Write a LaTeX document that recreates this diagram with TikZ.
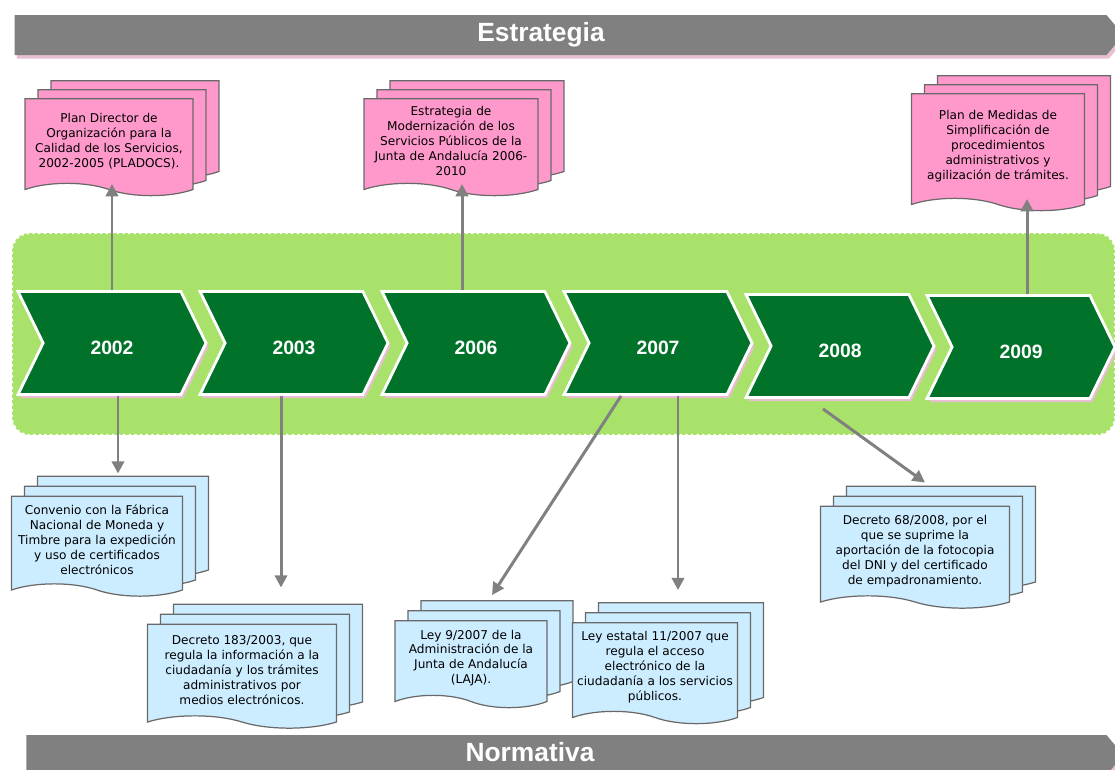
\documentclass[tikz,border=0pt]{standalone}
\usepackage{fontspec}
\setmainfont{Liberation Sans}
\newfontfamily\docfont{DejaVu Sans}
\usetikzlibrary{arrows.meta, shapes.symbols, shadows, calc}
\usepackage{xcolor}
\definecolor{bannergray}{RGB}{128,128,128}
\definecolor{bannerpink}{RGB}{232,190,210}
\definecolor{yeargreen}{RGB}{0,114,41}
\definecolor{bandgreen}{RGB}{168,226,106}
\definecolor{docpink}{RGB}{255,153,204}
\definecolor{docblue}{RGB}{204,236,255}
\definecolor{docline}{RGB}{105,105,105}
\definecolor{linkgray}{RGB}{128,128,128}

\begin{document}
\begin{tikzpicture}[
x=0.02cm, y=-0.02cm,
banner/.style={shape=signal, signal to=east, signal pointer angle=100,
  fill=bannergray, draw=none, minimum height=0.8cm, inner sep=0pt,
  drop shadow={shadow xshift=0.05cm, shadow yshift=-0.07cm, fill=bannerpink, opacity=1}},
bannertext/.style={text=white, font=\fontsize{15}{18}\selectfont\bfseries},
yearbox/.style={shape=signal, signal from=west, signal to=east, signal pointer angle=128,
  fill=yeargreen, draw=white, line width=1.6pt, minimum width=3.76cm, minimum height=2.06cm,
  inner sep=0pt, text=white, font=\fontsize{11}{13}\selectfont\bfseries,
  text height=13pt, text depth=0pt,
  drop shadow={shadow xshift=0.05cm, shadow yshift=-0.07cm, fill=bannerpink, opacity=1}},
docbox/.style={shape=tape, tape bend top=none, tape bend bottom=out and in,
  tape bend height=7pt, draw=docline, line width=0.7pt, align=center,
  inner xsep=0.5pt, inner ysep=2pt, font=\docfont\fontsize{6.9}{8.5}\selectfont},
pinkdoc/.style={docbox, fill=docpink,
  general shadow={shadow xshift=0.52cm, shadow yshift=0.36cm, fill=docpink, draw=docline, line width=0.7pt},
  general shadow={shadow xshift=0.26cm, shadow yshift=0.18cm, fill=docpink, draw=docline, line width=0.7pt}},
bluedoc/.style={docbox, fill=docblue,
  general shadow={shadow xshift=0.52cm, shadow yshift=0.4cm, fill=docblue, draw=docline, line width=0.7pt},
  general shadow={shadow xshift=0.26cm, shadow yshift=0.2cm, fill=docblue, draw=docline, line width=0.7pt}},
link/.style={draw=linkgray, line width=1.7pt, -{Triangle[length=7pt, width=7pt]}}
]
\useasboundingbox (0,0) rectangle (1115,769);

% -------- Banners --------
\node[banner, minimum width=22.18cm] (estrategia) at (560.5,35) {};
\node[bannertext] (estrategialbl) at (541,35) {Estrategia};

\node[banner, minimum width=21.94cm] (normativa) at (566.5,755) {};
\node[bannertext] (normativalbl) at (530,752) {Normativa};

% -------- Green band --------
\node[fill=bandgreen, draw=white, dotted, line width=1.2pt, rounded corners=10pt,
  minimum width=22.06cm, minimum height=4.04cm] (band) at (563.5,334) {};

% -------- Years --------
\node[yearbox] (y2002) at (112,343) {2002};
\node[yearbox] (y2003) at (294,343) {2003};
\node[yearbox] (y2006) at (476,343) {2006};
\node[yearbox] (y2007) at (658,343) {2007};
\node[yearbox] (y2008) at (840,346) {2008};
\node[yearbox] (y2009) at (1021,347) {2009};

% -------- Estrategia documents --------
\node[pinkdoc, minimum width=3.36cm, minimum height=1.94cm] (pdoc1) at (109,141)
{Plan Director de\\Organización para la\\Calidad de los Servicios,\\2002-2005 (PLADOCS).};
\node[pinkdoc, minimum width=3.48cm, minimum height=1.94cm] (pdoc2) at (451,141)
{Estrategia de\\Modernización de los\\Servicios Públicos de la\\Junta de Andalucía 2006-\\2010};
\node[pinkdoc, minimum width=3.46cm, minimum height=2.34cm] (pdoc3) at (998,146)
{Plan de Medidas de\\Simplificación de\\procedimientos\\administrativos y\\agilización de trámites.};

% -------- Normativa documents --------
\node[bluedoc, minimum width=3.42cm, minimum height=2.0cm] (bdoc1) at (97,540)
{Convenio con la Fábrica\\Nacional de Moneda y\\Timbre para la expedición\\y uso de certificados\\electrónicos};
\node[bluedoc, minimum width=3.78cm, minimum height=2.08cm] (bdoc2) at (242,670)
{Decreto 183/2003, que\\regula la información a la\\ciudadanía y los trámites\\administrativos por\\medios electrónicos.};
\node[bluedoc, minimum width=3.04cm, minimum height=1.74cm] (bdoc3) at (471,658)
{Ley 9/2007 de la\\Administración de la\\Junta de Andalucía\\(LAJA).};
\node[bluedoc, minimum width=3.3cm, minimum height=2.02cm] (bdoc4) at (655,667)
{Ley estatal 11/2007 que\\regula el acceso\\electrónico de la\\ciudadanía a los servicios\\públicos.};
\node[bluedoc, minimum width=3.78cm, minimum height=2.04cm] (bdoc5) at (915,551)
{Decreto 68/2008, por el\\que se suprime la\\aportación de la fotocopia\\del DNI y del certificado\\de empadronamiento.};

% -------- Links up --------
\draw[link] (y2002.north) -- (y2002.north |- pdoc1.south);
\draw[link] ([xshift=-0.28cm]y2006.north) -- ([xshift=-0.28cm]y2006.north |- pdoc2.south);
\draw[link] ([xshift=0.12cm]y2009.north) -- ([xshift=0.12cm]y2009.north |- pdoc3.south);

% -------- Links down --------
\draw[link] ([xshift=0.12cm]y2002.south) -- ([xshift=0.12cm,yshift=0.44cm]y2002.south |- bdoc1.north);
\draw[link] ([xshift=-0.26cm]y2003.south) -- ([xshift=-0.26cm,yshift=0.72cm]y2003.south |- bdoc2.north);
\draw[link] ([xshift=-0.74cm]y2007.south) -- ([xshift=0.42cm,yshift=0.5cm]bdoc3.north);
\draw[link] ([xshift=0.4cm]y2007.south) -- ([xshift=0.4cm,yshift=0.64cm]y2007.south |- bdoc4.north);
\draw[link] ([xshift=-0.34cm,yshift=-0.2cm]y2008.south) -- ([xshift=0.2cm,yshift=0.46cm]bdoc5.north);

\end{tikzpicture}
\end{document}
